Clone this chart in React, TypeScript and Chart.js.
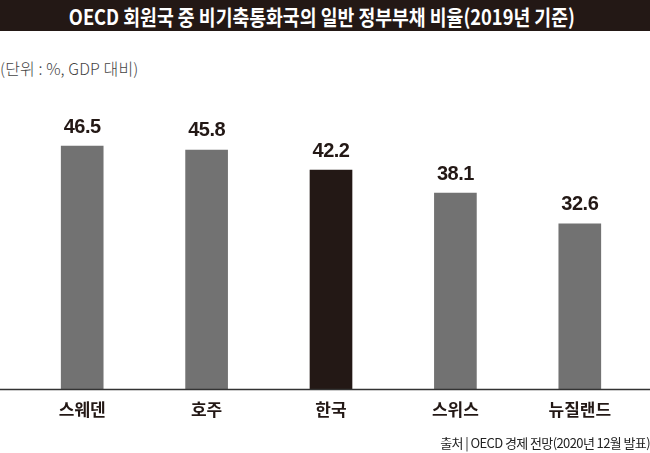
import { useEffect, useRef } from "react";
import { Chart, registerables } from "chart.js";

Chart.register(...registerables);

const countries = ["스웨덴", "호주", "한국", "스위스", "뉴질랜드"];
const debtRatio = [46.5, 45.8, 42.2, 38.1, 32.6];
const highlight = "한국";

const titleText = "OECD 회원국 중 비기축통화국의 일반 정부부채 비율(2019년 기준)";
const unitText = "(단위 : %, GDP 대비)";
const sourceText = "출처 | OECD 경제 전망(2020년 12월 발표)";

const DARK = "#231815";
const GREY = "#727272";
const KR = "'Noto Sans CJK KR', 'Noto Sans', sans-serif";

// value labels above each bar + baseline across the full width
const barExtras = {
   id: "barExtras",
   afterDatasetsDraw(chart: Chart) {
      const { ctx, chartArea } = chart;
      const meta = chart.getDatasetMeta(0);
      ctx.save();
      ctx.strokeStyle = "#333";
      ctx.lineWidth = 1.5;
      ctx.beginPath();
      ctx.moveTo(0, chartArea.bottom);
      ctx.lineTo(chart.width, chartArea.bottom);
      ctx.stroke();

      ctx.fillStyle = DARK;
      ctx.font = "bold 20px 'Liberation Sans', Arial, sans-serif";
      (ctx as any).letterSpacing = "-0.5px";
      ctx.textAlign = "center";
      ctx.textBaseline = "middle";
      meta.data.forEach((bar: any, i: number) => {
         ctx.fillText(debtRatio[i].toFixed(1), bar.x, bar.y - 19);
      });
      ctx.restore();
   },
};

export default function App() {
   const canvasRef = useRef<HTMLCanvasElement | null>(null);
   const chartRef = useRef<Chart | null>(null);

   useEffect(() => {
      document.body.style.margin = "0";
      if (!canvasRef.current) return;
      chartRef.current?.destroy();

      chartRef.current = new Chart(canvasRef.current, {
         type: "bar",
         data: {
            labels: countries,
            datasets: [
               {
                  data: debtRatio,
                  backgroundColor: countries.map((c) => (c === highlight ? DARK : GREY)),
                  barThickness: 42,
                  borderWidth: 0,
               },
            ],
         },
         options: {
            animation: false,
            responsive: false,
            layout: { padding: { top: 40, left: 20, right: 8, bottom: 23 } },
            scales: {
               y: { display: false, min: 3, max: 58.3 },
               x: {
                  grid: { display: false, drawTicks: false },
                  border: { display: false },
                  ticks: {
                     color: DARK,
                     padding: 10,
                     font: { family: KR, size: 17, weight: "bold" },
                  },
               },
            },
            plugins: {
               legend: { display: false },
               tooltip: { enabled: false },
            },
         },
         plugins: [barExtras],
      });

      return () => {
         chartRef.current?.destroy();
      };
   }, []);

   return (
      <div style={{ position: "relative", width: 650, height: 453, background: "#fff", overflow: "hidden" }}>
         <div
            style={{
               position: "absolute",
               left: 0,
               top: 0,
               width: 650,
               height: 31,
               background: DARK,
               color: "#fff",
               display: "flex",
               alignItems: "center",
               justifyContent: "center",
            }}
         >
            <span
               style={{
                  fontFamily: KR,
                  fontWeight: 700,
                  fontSize: 21,
                  whiteSpace: "nowrap",
                  display: "inline-block",
                  transform: "scaleX(0.87)",
                  marginLeft: -7,
               }}
            >
               {titleText}
            </span>
         </div>
         <div
            style={{
               position: "absolute",
               left: 0,
               top: 57,
               fontFamily: KR,
               fontWeight: 300,
               fontSize: 16,
               color: "#444",
               letterSpacing: "0.1px",
               whiteSpace: "nowrap",
               lineHeight: "22px",
            }}
         >
            {unitText}
         </div>
         <canvas ref={canvasRef} width={650} height={413} style={{ position: "absolute", left: 0, top: 40 }} />
         <div
            style={{
               position: "absolute",
               right: 0,
               top: 433,
               fontFamily: KR,
               fontSize: 13,
               color: "#222",
               letterSpacing: "-0.6px",
               whiteSpace: "nowrap",
               lineHeight: "20px",
            }}
         >
            {sourceText}
         </div>
      </div>
   );
}
